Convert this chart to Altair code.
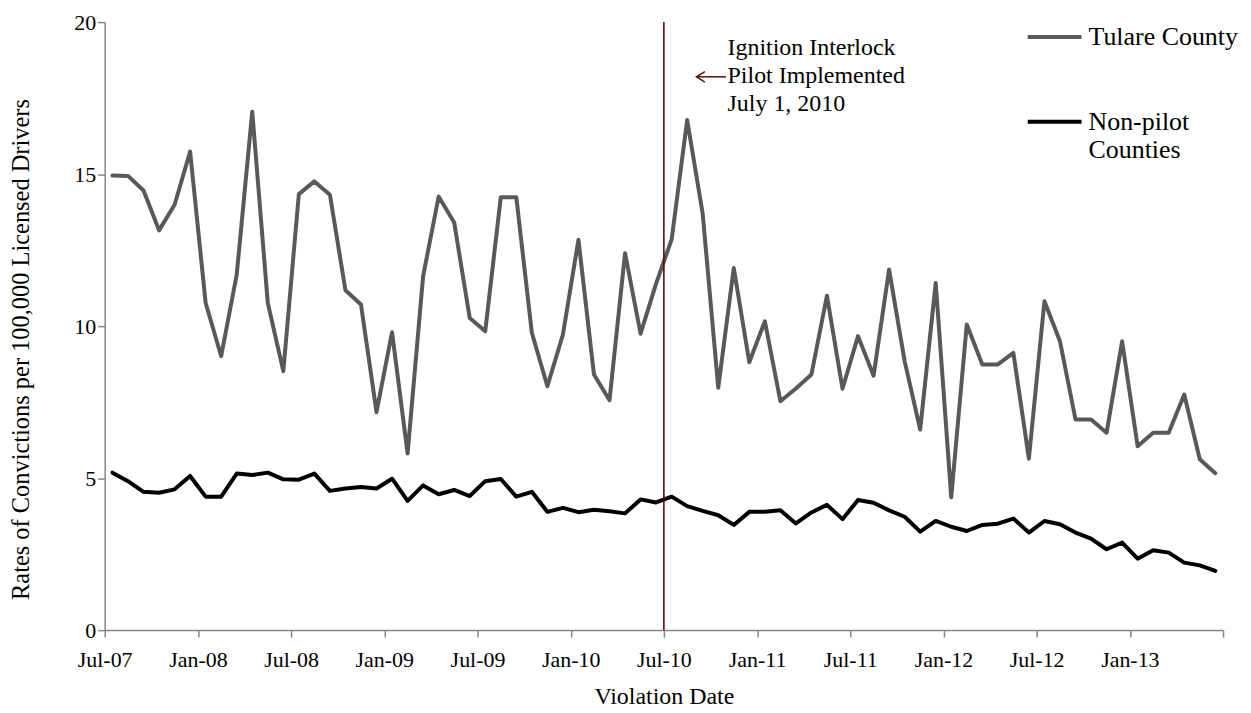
import altair as alt
import pandas as pd

# ---- data ----
months = [
    "Jul-07", "Aug-07", "Sep-07", "Oct-07", "Nov-07", "Dec-07",
    "Jan-08", "Feb-08", "Mar-08", "Apr-08", "May-08", "Jun-08",
    "Jul-08", "Aug-08", "Sep-08", "Oct-08", "Nov-08", "Dec-08",
    "Jan-09", "Feb-09", "Mar-09", "Apr-09", "May-09", "Jun-09",
    "Jul-09", "Aug-09", "Sep-09", "Oct-09", "Nov-09", "Dec-09",
    "Jan-10", "Feb-10", "Mar-10", "Apr-10", "May-10", "Jun-10",
    "Jul-10", "Aug-10", "Sep-10", "Oct-10", "Nov-10", "Dec-10",
    "Jan-11", "Feb-11", "Mar-11", "Apr-11", "May-11", "Jun-11",
    "Jul-11", "Aug-11", "Sep-11", "Oct-11", "Nov-11", "Dec-11",
    "Jan-12", "Feb-12", "Mar-12", "Apr-12", "May-12", "Jun-12",
    "Jul-12", "Aug-12", "Sep-12", "Oct-12", "Nov-12", "Dec-12",
    "Jan-13", "Feb-13", "Mar-13", "Apr-13", "May-13", "Jun-13",
]

tulare = [
    14.95, 14.94, 14.46, 13.15, 13.99, 15.74,
    10.76, 9.01, 11.69, 17.05, 10.76, 8.52,
    14.34, 14.76, 14.32, 11.18, 10.71, 7.17,
    9.80, 5.81, 11.64, 14.26, 13.41, 10.27,
    9.83, 14.24, 14.24, 9.78, 8.02, 9.72,
    12.84, 8.41, 7.56, 12.40, 9.75, 11.40,
    12.85, 16.78, 13.69, 7.97, 11.91, 8.81,
    10.16, 7.53, 7.95, 8.41, 11.00, 7.94,
    9.67, 8.37, 11.86, 8.85, 6.60, 11.42,
    4.37, 10.05, 8.74, 8.74, 9.12, 5.64,
    10.82, 9.50, 6.93, 6.93, 6.49, 9.50,
    6.05, 6.49, 6.49, 7.75, 5.62, 5.16,
]

non_pilot = [
    5.18, 4.90, 4.55, 4.52, 4.63, 5.07,
    4.39, 4.39, 5.15, 5.10, 5.18, 4.96,
    4.95, 5.15, 4.58, 4.66, 4.71, 4.66,
    4.98, 4.25, 4.76, 4.47, 4.61, 4.41,
    4.90, 4.97, 4.39, 4.55, 3.89, 4.02,
    3.88, 3.96, 3.91, 3.84, 4.30, 4.20,
    4.39, 4.08, 3.92, 3.78, 3.46, 3.89,
    3.89, 3.94, 3.51, 3.87, 4.12, 3.65,
    4.28, 4.19, 3.94, 3.73, 3.24, 3.59,
    3.40, 3.26, 3.46, 3.50, 3.67, 3.21,
    3.59, 3.48, 3.21, 3.01, 2.66, 2.88,
    2.35, 2.63, 2.55, 2.22, 2.13, 1.95,
]

tick_labels = ["Jul-07", "Jan-08", "Jul-08", "Jan-09", "Jul-09", "Jan-10",
               "Jul-10", "Jan-11", "Jul-11", "Jan-12", "Jul-12", "Jan-13", ""]
series_names = ["Tulare County", "Non-pilot Counties"]
series_colors = ["#595959", "#000000"]
y_ticks = [0, 5, 10, 15, 20]
pilot_start_month = "Jul-10"
annotation_text = "Ignition Interlock\nPilot Implemented\nJuly 1, 2010"

FONT = "Liberation Serif"
RED = "#5a0c0c"

# ---- tables ----
rows = []
for i, m in enumerate(months):
    rows.append({"month": m, "x": i + 0.5, "series": series_names[0], "rate": tulare[i]})
    rows.append({"month": m, "x": i + 0.5, "series": series_names[1], "rate": non_pilot[i]})
df = pd.DataFrame(rows)

n_months = len(months)
tick_values = list(range(0, n_months + 1, 6))
label_js = "[" + ",".join("'" + t + "'" for t in tick_labels) + "]"

x_scale = alt.Scale(domain=[0, n_months], nice=False, zero=False)
y_scale = alt.Scale(domain=[0, 20], nice=False)

lines = alt.Chart(df).mark_line(strokeWidth=4, strokeJoin="round", strokeCap="round").encode(
    x=alt.X("x:Q", scale=x_scale,
            axis=alt.Axis(values=tick_values, labelExpr=label_js + "[round(datum.value/6)]",
                          title="Violation Date", tickSize=7, labelPadding=12, titlePadding=15,
                          titleFontSize=24, labelFlush=False, labelFontSize=22)),
    y=alt.Y("rate:Q", scale=y_scale,
            axis=alt.Axis(values=y_ticks, title="Rates of Convictions per 100,000 Licensed Drivers",
                          tickSize=7, labelPadding=2, titlePadding=40, titleFontSize=24.5,
                          labelFontSize=22, titleY=328)),
    color=alt.Color("series:N",
                    scale=alt.Scale(domain=series_names, range=series_colors),
                    sort=series_names,
                    legend=alt.Legend(title=None, orient="none", legendX=924, legendY=-14,
                                      symbolType="stroke", symbolSize=2916, symbolStrokeWidth=4,
                                      labelFont=FONT, labelFontSize=26, labelColor="black",
                                      labelLimit=400, rowPadding=43, labelOffset=5,
                                      labelExpr="datum.label == 'Non-pilot Counties' ? ['Non-pilot', 'Counties'] : datum.label")),
    detail="series:N",
)

pilot_df = pd.DataFrame({"x": [months.index(pilot_start_month)], "label": [pilot_start_month]})
rule = alt.Chart(pilot_df).mark_rule(color=RED, strokeWidth=1.6).encode(x=alt.X("x:Q", scale=x_scale))

note = alt.Chart(pd.DataFrame({"text": [annotation_text]})).mark_text(
    align="left", baseline="top", font=FONT, fontSize=24, lineHeight=28, lineBreak="\n", color="black"
).encode(x=alt.datum(40.1, scale=x_scale), y=alt.datum(19.55, scale=y_scale), text="text:N")

# annotation arrow: shaft + open head pointing at the implementation line
arrow_shaft = alt.Chart(pd.DataFrame({"a": [0]})).mark_rule(color=RED, strokeWidth=1.5).encode(
    x=alt.datum(38.1, scale=x_scale), x2=alt.datum(40.0), y=alt.datum(18.2, scale=y_scale)
)
arrow_head = alt.Chart(pd.DataFrame({"a": [0]})).mark_point(
    shape="M1.6,-1L0,0L1.6,1", size=110, filled=False, color=RED, strokeWidth=1.5, opacity=1
).encode(x=alt.datum(38.1, scale=x_scale), y=alt.datum(18.2, scale=y_scale))

chart = alt.layer(lines, rule, note, arrow_shaft, arrow_head).properties(
    width=1122, height=610,
    autosize=alt.AutoSizeParams(type="none"),
    padding={"left": 97, "top": 13, "right": 20, "bottom": 78},
).configure_view(stroke=None).configure_axis(
    grid=False,
    domainColor="#868686", domainWidth=1.5, tickColor="#868686", tickWidth=1.5,
    labelFont=FONT, labelFontSize=21, labelColor="black",
    titleFont=FONT, titleFontSize=22, titleFontWeight="normal", titleColor="black",
)

chart.save("out.html", embed_options={"renderer": "svg", "actions": False})
